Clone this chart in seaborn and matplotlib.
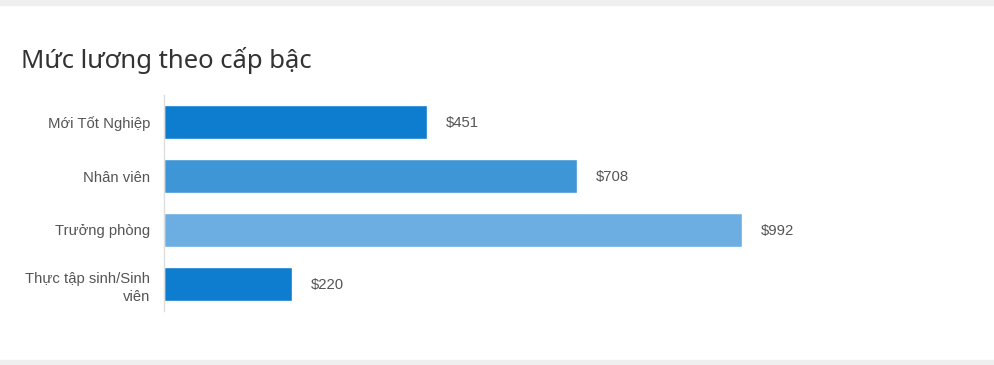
import matplotlib
matplotlib.use("Agg")
import matplotlib.pyplot as plt
import matplotlib.patches as mpatches
import seaborn as sns
import pandas as pd

# data
levels = ["Mới Tốt Nghiệp", "Nhân viên", "Trưởng phòng", "Thực tập sinh/Sinh\nviên"]
salary = [451, 708, 992, 220]
bar_colors = ["#0e7dcf", "#3e96d7", "#6caee2", "#0e7dcf"]
title = "Mức lương theo cấp bậc"

sns.set_theme(style="white")
plt.rcParams["font.family"] = ["Liberation Sans", "DejaVu Sans"]

df = pd.DataFrame({"level": levels, "salary": salary})

fig = plt.figure(figsize=(9.95, 3.65), dpi=100)
fig.patch.set_facecolor("white")
# light grey bands at top and bottom edges
fig.add_artist(mpatches.Rectangle((0, 1 - 5 / 365), 1, 5 / 365, transform=fig.transFigure,
                                  color="#efefef", zorder=0))
fig.add_artist(mpatches.Rectangle((0, 0), 1, 5 / 365, transform=fig.transFigure,
                                  color="#efefef", zorder=0))

ax = fig.add_axes([164 / 995, (365 - 311) / 365, (960 - 164) / 995, 216 / 365])
sns.barplot(data=df, y="level", x="salary", hue="level", palette=bar_colors,
            legend=False, orient="h", width=0.63, ax=ax, saturation=1)

ax.set_xlim(0, 796 / 0.5829)
ax.set_ylim(3.5, -0.5)
ax.set_xlabel("")
ax.set_ylabel("")
ax.set_xticks([])
for s in ["top", "right", "bottom"]:
    ax.spines[s].set_visible(False)
ax.spines["left"].set_color("#dddddd")
ax.spines["left"].set_linewidth(1)
ax.tick_params(axis="y", length=0, pad=10, labelsize=10.7, labelcolor="#555555")
for lbl in ax.get_yticklabels():
    lbl.set_linespacing(1.45)

for i, v in enumerate(salary):
    ax.annotate(f"${v}", xy=(v, i), xytext=(19, -1.5), textcoords="offset pixels",
                va="center", ha="left", fontsize=10.7, color="#555555")

fig.text(21 / 995, 1 - 60 / 365, title, fontsize=18.5, color="#333333",
         va="center", ha="left", family=["Noto Sans", "DejaVu Sans"])

fig.savefig("out.png", dpi=100)
